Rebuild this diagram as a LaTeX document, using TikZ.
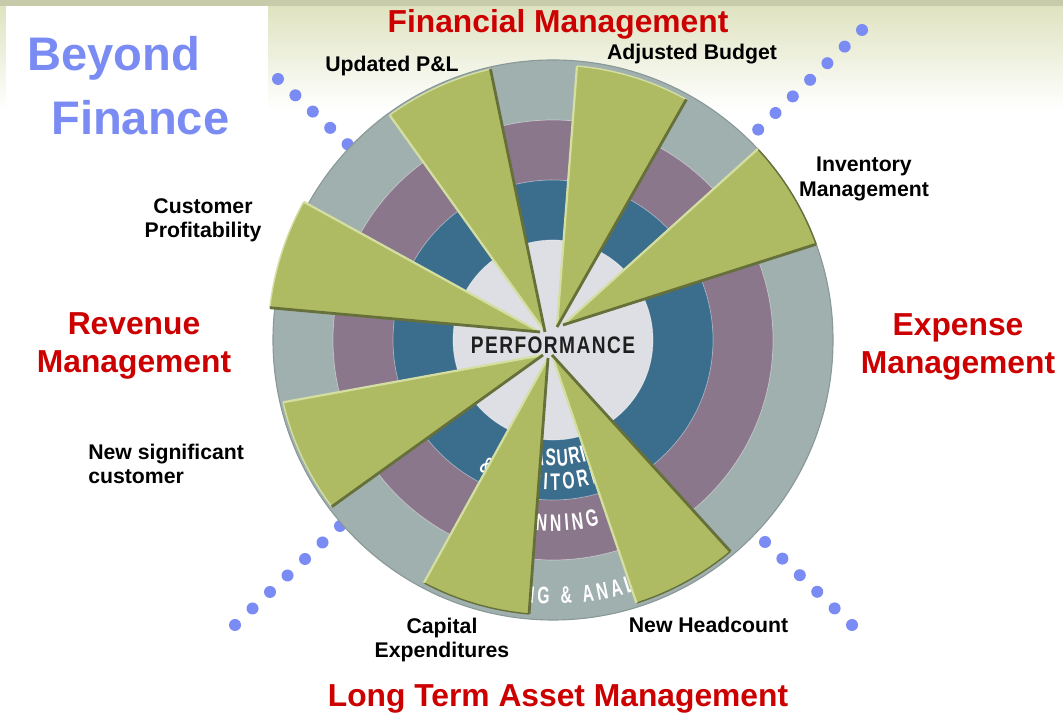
\documentclass[tikz,border=0pt]{standalone}
\usepackage{fontspec}
\setmainfont{Liberation Sans}
\newfontfamily\ringfont[FakeStretch=0.66]{Liberation Sans}
\newfontfamily\perffont[FakeStretch=0.8,LetterSpace=6]{Liberation Sans}
\usetikzlibrary{decorations.text}
\definecolor{ringgrey}{RGB}{160,176,175}
\definecolor{ringpurple}{RGB}{139,119,139}
\definecolor{ringblue}{RGB}{59,109,140}
\definecolor{ringcore}{RGB}{222,223,228}
\definecolor{ringrim}{RGB}{138,152,152}
\definecolor{wedgegreen}{RGB}{174,187,99}
\definecolor{wedgelight}{RGB}{212,222,160}
\definecolor{wedgedark}{RGB}{102,112,58}
\definecolor{areared}{RGB}{204,0,0}
\definecolor{titleblue}{RGB}{122,140,244}
\definecolor{topband}{RGB}{200,203,170}
\definecolor{topshade}{RGB}{223,227,192}
\newcommand\ringstyle{\ringfont\fontsize{17}{17}\selectfont\bfseries\color{white}}
\tikzset{
	every area/.style={
		text=areared,
		font=\fontsize{22.6}{27}\selectfont\bfseries,
		align=center,
		inner sep=0
	},
	every item/.style={
		text=black,
		font=\fontsize{15.1}{17.2}\selectfont\bfseries,
		align=center,
		inner sep=0
	},
	title word/.style={
		text=titleblue,
		font=\fontsize{33.5}{40}\selectfont\bfseries,
		inner sep=0,
		anchor=base west
	},
	wedge/.style={fill=wedgegreen},
	wedge light/.style={draw=wedgelight, line width=1.6pt},
	wedge dark/.style={draw=wedgedark, line width=2pt},
	dot/.style={fill=titleblue},
	ring text/.style={
		decorate,
		decoration={text along path, text align=fit to path}
	},
}

\begin{document}
\begin{tikzpicture}[x=0.025cm, y=0.025cm]

\useasboundingbox (0,0) rectangle (1063,714);
\fill[white] (0,0) rectangle (1063,714);
\shade[top color=topshade, bottom color=white] (0,604) rectangle (1063,708);
\fill[topband] (0,708) rectangle (1063,714);
\fill[white] (6,544) rectangle (268,708);

\foreach \i in {0,...,5}
	\fill[dot] (278+17.4*\i, 635-16.3*\i) circle[radius=6];
\foreach \i in {0,...,6}
	\fill[dot] (862-17.3*\i, 684-16.6*\i) circle[radius=6];
\foreach \i in {0,...,6}
	\fill[dot] (235+17.5*\i, 89+16.5*\i) circle[radius=6];
\foreach \i in {0,...,5}
	\fill[dot] (765+17.4*\i, 172-16.6*\i) circle[radius=6];

\coordinate (c) at (553,374);
\foreach \col/\rad in {ringgrey/280, ringpurple/220, ringblue/160, ringcore/100}
	\fill[\col] (c) circle[radius=\rad];
\foreach \rad in {100,160,220}
	\draw[white, opacity=0.45, line width=0.5pt] (c) circle[radius=\rad];
\draw[ringrim, line width=0.8pt] (c) circle[radius=280];

\path[ring text, decoration={text={|\ringstyle|MEASURING}}]
	([shift={(248.7:126)}]c) arc[start angle=248.7, end angle=297.6, radius=126];
\path[ring text, decoration={text={|\ringstyle|{\&} MONITORING}}]
	([shift={(240.1:150)}]c) arc[start angle=240.1, end angle=298.5, radius=150];
\path[ring text, decoration={text={|\ringstyle|PLANNING}}]
	([shift={(252.1:191)}]c) arc[start angle=252.1, end angle=284.1, radius=191];
\path[ring text, decoration={text={|\ringstyle|REPORTING {\&} ANALYSIS}}]
	([shift={(242.8:264)}]c) arc[start angle=242.8, end angle=299.2, radius=264];

\foreach \name/\ax/\ay/\al/\ad/\r/\ac in {
		inv/563/389/43/20/280/wedgedark,
		budget/557/387/85/61/275/wedgelight,
		pl/545/382/126/103/278/wedgelight,
		profit/540/382/151/173.5/285/wedgelight,
		newcust/543/359/193/217/277/wedgelight,
		capex/548/356/242/265/275/wedgedark,
		heads/552/359/287.6/310/276/wedgedark}
{
	\coordinate (tip-\name) at (\ax,\ay);
	\fill[wedge] (tip-\name) -- ([shift={(\al:\r)}]c)
		arc[start angle=\al, end angle=\ad, radius=\r] -- cycle;
	\draw[draw=\ac, line width=1pt] ([shift={(\al:\r)}]c)
		arc[start angle=\al, end angle=\ad, radius=\r];
	\draw[wedge light] (tip-\name) -- ([shift={(\al:\r)}]c);
	\draw[wedge dark] (tip-\name) -- ([shift={(\ad:\r)}]c);
}

\node[inner sep=0, text=black!88, font=\perffont\fontsize{17}{17}\selectfont\bfseries]
	(perf) at (553,368.5) {PERFORMANCE};

\node[title word] (beyond) at (27,643) {Beyond};
\node[title word] (finance) at (51,579) {Finance};

\node[every area, anchor=base] (financial) at (558,681) {Financial Management};
\node[every area] (revenue) at (134,368) {Revenue\\Management};
\node[every area] (expense) at (958,367) {Expense\\Management};
\node[every area, anchor=base] (longterm) at (558,7) {Long Term Asset Management};

\node[every item, anchor=base] (updated) at (392,642) {Updated P\&L};
\node[every item, anchor=base] (adjusted) at (692,654) {Adjusted Budget};
\node[every item] (inventory) at (864,535) {Inventory\\Management};
\node[every item] (customer) at (203,494) {Customer\\Profitability};
\node[every item, anchor=west, align=left] (significant) at (88,250) {New significant\\customer};
\node[every item] (capital) at (442,74) {Capital\\Expenditures};
\node[every item, anchor=base] (headcount) at (708.5,81) {New Headcount};

\end{tikzpicture}
\end{document}
